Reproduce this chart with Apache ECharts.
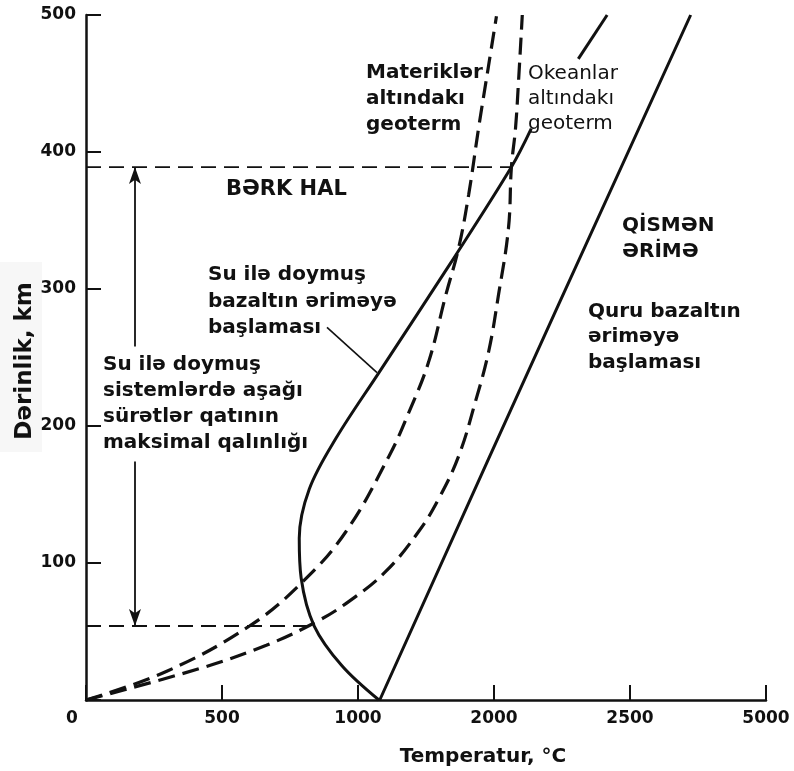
<!DOCTYPE html>
<html>
<head>
<meta charset="utf-8">
<script src="https://cdn.jsdelivr.net/npm/echarts@6/dist/echarts.min.js"></script>
<style>html,body{margin:0;padding:0;background:#fff;}#c{width:794px;height:771px;}</style>
</head>
<body>
<div id="c"></div>
<script>
// ---- data (temperature °C, depth km) ----
const tempTickLabels = ['0', '500', '1000', '2000', '2500', '5000'];
const depthTicks = [0, 100, 200, 300, 400, 500];

const wetBasaltSolidus = [[1077,0],[941,25],[839,54],[791,89],[784,118],[821,154],[919,191],[1077,239],[1344,320],[1564,389],[1637,417]];
const wetBasaltSolidusUpper = [[1810,468],[1916,500]];
const dryBasaltSolidus = [[1080,0],[1480,176],[1736,288],[2223,500]];
const continentalGeotherm = [[0,0],[297,21],[601,54],[795,86],[956,123],[1114,178],[1187,210],[1260,247],[1322,295],[1370,330],[1407,369],[1443,417],[1480,463],[1509,499]];
const oceanicGeotherm = [[0,0],[418,23],[663,40],[846,57],[967,72],[1103,94],[1223,123],[1297,147],[1370,178],[1432,218],[1480,254],[1516,295],[1553,344],[1564,389],[1579,417],[1590,451],[1604,500]];
const upperLimitLine = [[0,389],[1562,389]];
const lowerLimitLine = [[0,54],[839,54]];
const arrowUpper = [[180,258],[180,389]];
const arrowLower = [[180,174],[180,54]];
const leaderLine = [[886,272],[1070,239]];

const FONT = '"DejaVu Sans", "Liberation Sans", Arial, sans-serif';
const INK = '#111';

const chart = echarts.init(document.getElementById('c'), null, {renderer: 'canvas'});

function solid(data, sm) {
  return {type:'line', data, smooth:sm, symbol:'none', clip:false,
    lineStyle:{color:INK, width:3}, z:3};
}
function geo(data) {
  return {type:'line', data, smooth:0.4, symbol:'none', clip:false,
    lineStyle:{color:INK, width:3.2, type:[17,8]}, z:3};
}
function thinDash(data) {
  return {type:'line', data, symbol:'none', clip:false,
    lineStyle:{color:INK, width:1.8, type:[15,8]}, z:2};
}

const labels = [
  {t:'Materiklər\naltındakı\ngeoterm', x:366, y:60, lh:26, w:'bold', s:20},
  {t:'Okeanlar\naltındakı\ngeoterm', x:528, y:61, lh:25, w:'normal', s:20},
  {t:'BƏRK HAL', x:226, y:177, lh:26, w:'bold', s:21},
  {t:'QİSMƏN\nƏRİMƏ', x:622, y:213, lh:26, w:'bold', s:20},
  {t:'Su ilə doymuş\nbazaltın əriməyə\nbaşlaması', x:208, y:262, lh:26.5, w:'bold', s:20},
  {t:'Su ilə doymuş\nsistemlərdə aşağı\nsürətlər qatının\nmaksimal qalınlığı', x:103, y:352, lh:26, w:'bold', s:20},
  {t:'Quru bazaltın\nəriməyə\nbaşlaması', x:588, y:299, lh:25.5, w:'bold', s:20}
];

const graphics = [
  {type:'rect', shape:{x:0, y:262, width:42, height:190}, style:{fill:'#f7f7f7'}, z:-1},
  {type:'text', x:25, y:361, rotation:Math.PI/2,
    style:{text:'Dərinlik, km', font:'bold 23px '+FONT, fill:INK, align:'center', verticalAlign:'middle'}},
  {type:'text', x:483, y:757,
    style:{text:'Temperatur, °C', font:'bold 20px '+FONT, fill:INK, align:'center', verticalAlign:'middle'}}
];
labels.forEach(l => graphics.push({type:'text', x:l.x, y:l.y,
  style:{text:l.t, font:l.w+' '+l.s+'px '+FONT, fill:INK, lineHeight:l.lh, verticalAlign:'top', align:'left'}}));

const option = {
  animation:false,
  backgroundColor:'#fff',
  grid:{left:86, right:28, top:15, bottom:71},
  xAxis:{type:'value', min:0, max:2500, interval:500,
    axisLine:{show:true, lineStyle:{color:INK, width:2.5}},
    axisTick:{show:true, inside:true, length:15, lineStyle:{color:INK, width:2}},
    splitLine:{show:false},
    axisLabel:{margin:10, color:INK, fontFamily:FONT, fontWeight:'bold', fontSize:17,
      formatter:v => { const s = tempTickLabels[Math.round(v/500)]; return v === 0 ? '{z|' + s + '}' : s; },
      rich:{z:{padding:[0,28,0,0], color:INK, fontFamily:FONT, fontWeight:'bold', fontSize:17}}}
  },
  yAxis:{type:'value', min:depthTicks[0], max:depthTicks[depthTicks.length-1], interval:100,
    axisLine:{show:true, lineStyle:{color:INK, width:2.5}},
    axisTick:{show:true, inside:true, length:15, lineStyle:{color:INK, width:2}},
    splitLine:{show:false},
    axisLabel:{margin:10, color:INK, fontFamily:FONT, fontWeight:'bold', fontSize:17,
      formatter:v => v === 0 ? '' : String(v)}
  },
  graphic:graphics,
  series:[
    solid(wetBasaltSolidus, 0.35),
    solid(wetBasaltSolidusUpper, false),
    solid(dryBasaltSolidus, false),
    geo(continentalGeotherm),
    geo(oceanicGeotherm),
    thinDash(upperLimitLine),
    thinDash(lowerLimitLine),
    {type:'line', data:leaderLine, symbol:'none', clip:false, lineStyle:{color:INK, width:1.6}},
    {type:'line', data:[], symbol:'none',
      markLine:{silent:true, symbol:['none','arrow'], symbolSize:[9,17], label:{show:false},
        lineStyle:{color:INK, width:1.8, type:'solid'},
        data:[
          [{coord:arrowUpper[0]},{coord:arrowUpper[1]}],
          [{coord:arrowLower[0]},{coord:arrowLower[1]}]
        ]}}
  ]
};
chart.setOption(option);
</script>
</body>
</html>
